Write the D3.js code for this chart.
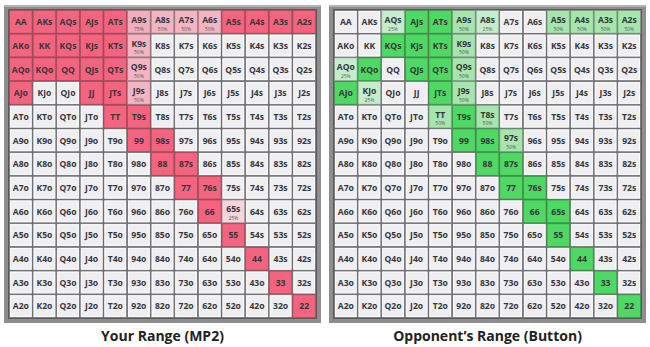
<!DOCTYPE html>
<html>
<head>
<meta charset="utf-8">
<script src="https://cdn.jsdelivr.net/npm/d3@7"></script>
<style>
  html, body { margin: 0; padding: 0; background: #ffffff; }
  svg { display: block; }
</style>
</head>
<body>
<svg id="chart" width="650" height="347"></svg>
<script>
// Card ranks, high to low, used for both axes of the hand matrix
const ranks = ["A", "K", "Q", "J", "T", "9", "8", "7", "6", "5", "4", "3", "2"];

// Play frequency per hand (row = first rank, column = second rank)
const yourRange = [
  [1, 1, 1, 1, 1, 0.75, 0.5, 0.5, 0.5, 1, 1, 1, 1],
  [1, 1, 1, 1, 1, 0.5, 0, 0, 0, 0, 0, 0, 0],
  [1, 1, 1, 1, 1, 0.5, 0, 0, 0, 0, 0, 0, 0],
  [1, 0, 0, 1, 1, 0.5, 0, 0, 0, 0, 0, 0, 0],
  [0, 0, 0, 0, 1, 1, 0, 0, 0, 0, 0, 0, 0],
  [0, 0, 0, 0, 0, 1, 1, 0, 0, 0, 0, 0, 0],
  [0, 0, 0, 0, 0, 0, 1, 1, 0, 0, 0, 0, 0],
  [0, 0, 0, 0, 0, 0, 0, 1, 1, 0, 0, 0, 0],
  [0, 0, 0, 0, 0, 0, 0, 0, 1, 0.25, 0, 0, 0],
  [0, 0, 0, 0, 0, 0, 0, 0, 0, 1, 0, 0, 0],
  [0, 0, 0, 0, 0, 0, 0, 0, 0, 0, 1, 0, 0],
  [0, 0, 0, 0, 0, 0, 0, 0, 0, 0, 0, 1, 0],
  [0, 0, 0, 0, 0, 0, 0, 0, 0, 0, 0, 0, 1]
];

const opponentRange = [
  [0, 0, 0.25, 1, 1, 0.5, 0.25, 0, 0, 0.5, 0.5, 0.5, 0.5],
  [0, 0, 1, 1, 1, 0.5, 0, 0, 0, 0, 0, 0, 0],
  [0.25, 1, 0, 1, 1, 0.5, 0, 0, 0, 0, 0, 0, 0],
  [1, 0.25, 0, 0, 1, 0.5, 0, 0, 0, 0, 0, 0, 0],
  [0, 0, 0, 0, 0.5, 1, 0.5, 0, 0, 0, 0, 0, 0],
  [0, 0, 0, 0, 0, 1, 1, 0.5, 0, 0, 0, 0, 0],
  [0, 0, 0, 0, 0, 0, 1, 1, 0, 0, 0, 0, 0],
  [0, 0, 0, 0, 0, 0, 0, 1, 1, 0, 0, 0, 0],
  [0, 0, 0, 0, 0, 0, 0, 0, 1, 1, 0, 0, 0],
  [0, 0, 0, 0, 0, 0, 0, 0, 0, 1, 0, 0, 0],
  [0, 0, 0, 0, 0, 0, 0, 0, 0, 0, 1, 0, 0],
  [0, 0, 0, 0, 0, 0, 0, 0, 0, 0, 0, 1, 0],
  [0, 0, 0, 0, 0, 0, 0, 0, 0, 0, 0, 0, 1]
];

const panelTitles = ["Your Range (MP2)", "Opponent\u2019s Range (Button)"];

// Fill colours by frequency level
const pinkFills = { 1: "#f4647f", 0.75: "#f3adbd", 0.5: "#f4b5c3", 0.25: "#f4d5dc", 0: "#efeff2" };
const greenFills = { 1: "#4fd864", 0.75: "#8fdf9b", 0.5: "#a6e5ae", 0.25: "#c6edcb", 0: "#efeff2" };

const svg = d3.select("#chart");

function handLabel(r, c) {
  if (r === c) return ranks[r] + ranks[c];
  if (c > r) return ranks[r] + ranks[c] + "s";
  return ranks[c] + ranks[r] + "o";
}

function drawPanel(x0, data, fills, title) {
  const gridLeft = x0, gridTop = 10, gridW = 307, gridH = 308;
  const x = d3.scaleBand().domain(d3.range(13)).range([gridLeft, gridLeft + gridW]);
  const y = d3.scaleBand().domain(d3.range(13)).range([gridTop, gridTop + gridH]);

  const g = svg.append("g");

  // outer frame
  g.append("rect")
    .attr("x", gridLeft - 5).attr("y", gridTop - 5)
    .attr("width", gridW + 10).attr("height", gridH + 10)
    .attr("fill", "#8e8e8e");
  g.append("rect")
    .attr("x", gridLeft - 5).attr("y", gridTop - 5)
    .attr("width", gridW + 10).attr("height", 2)
    .attr("fill", "#b4b4b4");
  g.append("rect")
    .attr("x", gridLeft - 1).attr("y", gridTop - 1)
    .attr("width", gridW + 2).attr("height", gridH + 2)
    .attr("fill", "#5a5a5a");

  const cells = [];
  data.forEach((row, r) => row.forEach((v, c) => cells.push({ r, c, v })));

  const cell = g.selectAll("g.cell").data(cells).enter().append("g").attr("class", "cell");

  cell.append("rect")
    .attr("x", d => x(d.c) + 0.5)
    .attr("y", d => y(d.r) + 0.5)
    .attr("width", x.bandwidth() - 1)
    .attr("height", y.bandwidth() - 1)
    .attr("fill", d => fills[d.v])
    .attr("stroke", d => d.v > 0 ? d3.color(fills[d.v]).darker(0.9) : "#75757b")
    .attr("stroke-width", 0.8);

  // inner highlight on unselected cells
  cell.filter(d => d.v === 0).append("rect")
    .attr("x", d => x(d.c) + 1.5)
    .attr("y", d => y(d.r) + 1.5)
    .attr("width", x.bandwidth() - 3)
    .attr("height", y.bandwidth() - 3)
    .attr("fill", "none")
    .attr("stroke", "#fafafc")
    .attr("stroke-width", 1);

  const hasPct = d => d.v > 0 && d.v < 1;

  cell.append("text")
    .attr("x", d => x(d.c) + x.bandwidth() / 2)
    .attr("y", d => y(d.r) + y.bandwidth() / 2 + (hasPct(d) ? 1 : 3.3))
    .attr("text-anchor", "middle")
    .attr("font-family", "'Open Sans', sans-serif")
    .attr("font-weight", 700)
    .attr("font-size", 8.6)
    .attr("fill", "#36363e")
    .text(d => handLabel(d.r, d.c));

  cell.filter(hasPct).append("text")
    .attr("x", d => x(d.c) + x.bandwidth() / 2)
    .attr("y", d => y(d.r) + y.bandwidth() - 3)
    .attr("text-anchor", "middle")
    .attr("font-family", "'Open Sans', sans-serif")
    .attr("font-size", 5)
    .attr("fill", "#5a5a60")
    .text(d => Math.round(d.v * 100) + "%");

  svg.append("text")
    .attr("x", gridLeft + gridW / 2)
    .attr("y", 341)
    .attr("text-anchor", "middle")
    .attr("font-family", "'Open Sans', sans-serif")
    .attr("font-weight", 700)
    .attr("font-size", 14)
    .attr("fill", "#222")
    .text(title);
}

drawPanel(9, yourRange, pinkFills, panelTitles[0]);
drawPanel(334, opponentRange, greenFills, panelTitles[1]);
</script>
</body>
</html>
